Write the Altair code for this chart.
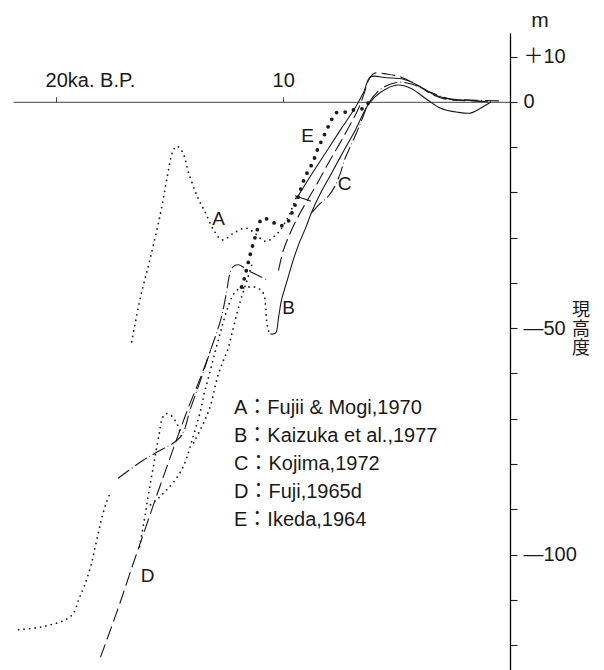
import altair as alt
import pandas as pd

# ---------------- data (age in ka B.P., height in m) ----------------
# A : Fujii & Mogi (fine dotted)
A1_AGE = [21.65, 20.90, 20.24, 19.58, 19.23, 19.01, 18.74, 18.48, 18.26, 18.04, 17.82, 17.60]
A1_M = [-116.6, -116.2, -115.5, -114.4, -112.9, -110.0, -106.7, -102.7, -97.9, -93.0, -89.0, -86.2]
A2_AGE = [16.67, 16.28, 15.84, 15.40, 15.09, 14.87, 14.69, 14.43, 14.16, 13.77, 13.41, 13.06,
          12.67, 12.18, 11.65, 11.30, 10.77, 10.24, 9.80, 9.58, 9.41]
A2_M = [-53.0, -43.1, -34.3, -24.6, -16.2, -11.1, -9.8, -11.1, -15.7, -21.0, -24.6, -28.3,
        -30.5, -29.0, -27.9, -28.8, -30.8, -29.0, -25.7, -23.2, -21.0]
# further fine dotted branches
F1_AGE = [16.32, 16.23, 16.10, 15.97, 15.84, 15.70, 15.57, 15.44, 15.35, 15.18, 14.96, 14.74, 14.56, 14.43]
F1_M = [-98.3, -95.7, -91.9, -87.9, -84.0, -80.2, -76.4, -72.9, -70.3, -68.9, -69.2, -70.5, -72.5, -74.7]
F2_AGE = [15.84, 15.48, 15.13, 14.78, 14.47, 14.25, 14.07, 13.85, 13.63, 13.46, 13.28, 12.97,
          12.71, 12.44, 12.18, 11.87]
F2_M = [-89.0, -87.5, -85.7, -83.7, -81.3, -78.7, -75.8, -72.0, -68.1, -64.1, -60.8, -54.8,
        -50.0, -45.5, -42.5, -40.9]
F3_AGE = [13.94, 13.50, 13.19, 12.89, 12.62, 12.44, 12.27, 12.05, 11.87, 11.70, 11.52, 11.34]
F3_M = [-75.3, -70.9, -67.0, -60.8, -57.0, -54.8, -51.5, -47.1, -43.8, -41.1, -38.3, -35.4]
B0_AGE = [11.74, 11.26, 10.90, 10.77, 10.73, 10.64, 10.55]
B0_M = [-41.1, -40.9, -42.0, -44.9, -48.2, -50.6, -51.3]

# B : Kaizuka et al. (solid)
B_AGE = [10.55, 10.33, 10.20, 10.07, 9.85, 9.58, 9.32, 9.01, 8.70, 8.35, 7.91, 7.38, 6.81,
         6.23, 5.70, 4.96, 4.38, 3.63, 3.06, 2.31, 1.74, 1.43, 0.86]
B_M = [-51.3, -51.1, -47.7, -43.8, -40.0, -35.4, -31.6, -27.9, -23.9, -20.2, -16.2, -11.3, -6.2,
       -0.5, 2.1, 3.7, 3.0, 0.4, -1.4, -2.3, -2.5, -1.8, -0.1]
S1_AGE = [9.36, 8.79, 8.13, 7.47, 6.81, 6.45, 6.15, 5.44, 4.69, 4.16, 3.72, 3.19, 2.62, 2.05, 0.99]
S1_M = [-21.0, -16.4, -11.3, -6.2, -1.2, 2.1, 5.5, 5.3, 5.0, 3.9, 2.6, 1.3, 0.6, 0.4, 0.0]
S1T_AGE = [9.45, 8.79]
S1T_M = [-20.8, -21.9]

# C : Kojima (dash-dot)
C_AGE = [17.25, 16.15, 15.53, 14.52, 14.07, 13.63, 13.19, 12.75, 12.49, 12.36, 12.22, 11.96,
         11.56, 11.12, 10.68]
C_M = [-83.1, -79.1, -77.3, -74.0, -67.6, -61.4, -54.8, -48.2, -42.0, -38.3, -36.5, -36.0,
       -37.2, -38.3, -39.4]
C2_AGE = [8.70, 8.35, 8.00, 7.69, 7.47, 7.33, 7.11, 6.81, 6.50, 6.23, 5.70, 4.96, 4.30, 3.50,
          2.62, 1.74, 0.51]
C2_M = [-24.3, -22.4, -20.8, -18.4, -15.7, -13.3, -10.7, -7.4, -3.6, -0.3, 2.8, 4.3, 3.9, 2.1,
        0.6, 0.4, 0.2]

# D : Fuji (long dash)
D_AGE = [18.04, 17.29, 16.59, 16.06, 15.53, 15.09, 14.65, 14.16, 13.63, 13.19]
D_M = [-122.6, -112.2, -101.8, -94.1, -86.4, -80.2, -74.0, -67.4, -60.8, -54.8]
D2_AGE = [10.20, 9.98, 9.67, 9.32, 8.92, 8.48, 8.00, 7.47, 7.03, 6.67, 6.41, 6.23, 5.97, 5.40,
          4.82, 4.16, 3.37, 2.84, 1.61, 0.86]
D2_M = [-37.2, -32.7, -28.8, -25.2, -21.7, -17.9, -13.5, -8.9, -4.9, -1.4, 2.1, 4.8, 6.3, 6.1,
        5.5, 3.9, 1.5, 0.6, 0.2, 0.0]

# E : Ikeda (heavy dots)
E_AGE = [11.83, 11.70, 11.56, 11.43, 11.21, 10.90, 10.46, 10.11, 9.80, 9.63, 9.49, 9.32, 9.10,
         8.92, 8.70, 8.57, 8.44, 8.26, 8.08, 7.91, 7.69, 7.29, 6.89, 6.45, 6.23]
E_M = [-40.9, -38.9, -36.0, -33.4, -29.6, -25.7, -26.6, -27.4, -26.6, -24.8, -23.0, -20.8, -17.5,
       -15.5, -13.5, -11.8, -10.0, -8.2, -6.2, -4.5, -2.5, -2.3, -1.8, -1.4, -0.1]

# curve letters
LBL_TEXT = ["A", "B", "C", "D", "E"]
LBL_AGE = [12.84, 9.76, 7.29, 15.97, 8.92]
LBL_M = [-25.9, -45.5, -18.2, -104.7, -7.6]

LEGEND_LINES = ["A：Fujii & Mogi,1970", "B：Kaizuka et al.,1977", "C：Kojima,1972",
                "D：Fuji,1965d", "E：Ikeda,1964"]

X_TICKS = [20, 10]
X_LABELS = {20: "20ka. B.P.", 10: "10"}
Y_TICKS = [10, 0, -10, -20, -30, -40, -50, -60, -70, -80, -90, -100, -110, -120]
Y_LABELS = {10: "＋10", 0: "0", -50: "—50", -100: "—100"}
Y_TITLE = ["現", "高", "度"]
UNIT = "m"

X_DOMAIN = [0, 21.9]
Y_DOMAIN = [-125.5, 15.2]
W, H = 497, 637

SEGMENTS = [
    ("A1", "fine", A1_AGE, A1_M), ("A2", "fine", A2_AGE, A2_M),
    ("F1", "fine", F1_AGE, F1_M), ("F2", "fine", F2_AGE, F2_M), ("F3", "fine", F3_AGE, F3_M),
    ("B0", "fine", B0_AGE, B0_M),
    ("B", "solid", B_AGE, B_M), ("S1", "solid", S1_AGE, S1_M), ("S1T", "solid", S1T_AGE, S1T_M),
    ("C", "dashdot", C_AGE, C_M), ("C2", "dashdot", C2_AGE, C2_M),
    ("D", "dash", D_AGE, D_M), ("D2", "dash", D2_AGE, D2_M),
    ("E", "big", E_AGE, E_M),
]

rows = []
for seg, style, ages, ms in SEGMENTS:
    for i, (a, m) in enumerate(zip(ages, ms)):
        rows.append({"seg": seg, "style": style, "i": i, "age": a, "m": m})
df = pd.DataFrame(rows)

FONT = "Liberation Sans, Noto Sans CJK JP"
INK = "#1a1a1a"

zero_pos = H * (Y_DOMAIN[1] - 0) / (Y_DOMAIN[1] - Y_DOMAIN[0])

x_expr = " : ".join(f"datum.value == {k} ? '{v}'" for k, v in X_LABELS.items()) + " : ''"
y_expr = " : ".join(f"datum.value == {k} ? '{v}'" for k, v in Y_LABELS.items()) + " : ''"

X_ENC = alt.X("age:Q", scale=alt.Scale(domain=X_DOMAIN, reverse=True, nice=False, zero=False),
              axis=alt.Axis(orient="top", offset=-zero_pos, values=X_TICKS, labelExpr=x_expr,
                            labelAlign="left", labelOffset=-11, labelBaseline="alphabetic",
                            labelPadding=10, tickSize=5, tickColor="#444", domainColor="#444",
                            domainWidth=1, labelFontSize=20, labelFont=FONT, labelColor=INK,
                            title=None, grid=False, labelFlush=False, labelOverlap=False))
Y_ENC = alt.Y("m:Q", scale=alt.Scale(domain=Y_DOMAIN, nice=False, zero=False),
              axis=alt.Axis(orient="right", values=Y_TICKS, labelExpr=y_expr, tickSize=7,
                            labelPadding=6, labelAlign="left", labelBaseline="middle",
                            labelFontSize=20, labelFont=FONT, labelColor=INK, domainColor="#000",
                            domainWidth=1.3, tickColor="#222", tickWidth=1.1, title=None,
                            grid=False, labelFlush=False, labelOverlap=False))

STYLES = {
    "fine": dict(strokeDash=[0, 5.5], strokeWidth=1.8),
    "big": dict(strokeDash=[0, 8.5], strokeWidth=3.8),
    "solid": dict(strokeWidth=1.1),
    "dash": dict(strokeDash=[13, 6], strokeWidth=1.1),
    "dashdot": dict(strokeDash=[13, 4, 0, 4], strokeWidth=1.1),
}

layers = []
for style, props in STYLES.items():
    layers.append(
        alt.Chart(df[df["style"] == style]).mark_line(
            color=INK, strokeCap="round", interpolate="catmull-rom", **props
        ).encode(x=X_ENC, y=Y_ENC, detail="seg:N", order="i:Q")
    )

lbl_df = pd.DataFrame({"t": LBL_TEXT, "age": LBL_AGE, "m": LBL_M})
layers.append(
    alt.Chart(lbl_df).mark_text(fontSize=19, font=FONT, color=INK, align="center",
                                baseline="middle").encode(x=X_ENC, y=Y_ENC, text="t:N")
)

one = pd.DataFrame({"k": [0]})
layers.append(
    alt.Chart(one).mark_text(text=LEGEND_LINES, fontSize=20, font=FONT, color=INK, align="left",
                             baseline="middle", lineHeight=28)
    .encode(x=alt.value(221), y=alt.value(375))
)
layers.append(
    alt.Chart(one).mark_text(text=UNIT, fontSize=21, font=FONT, color=INK, align="center",
                             baseline="middle").encode(x=alt.value(527), y=alt.value(-12))
)
layers.append(
    alt.Chart(one).mark_text(text=Y_TITLE, fontSize=18, font=FONT, color=INK, align="center",
                             baseline="middle", lineHeight=19)
    .encode(x=alt.value(568), y=alt.value(278))
)

chart = alt.layer(*layers).properties(
    width=W, height=H,
    padding={"left": 5, "top": 25, "right": 80, "bottom": 0},
    autosize=alt.AutoSizeParams(type="none"),
).configure_view(stroke=None)

chart.save("out.html", embed_options={"renderer": "svg", "actions": False})
